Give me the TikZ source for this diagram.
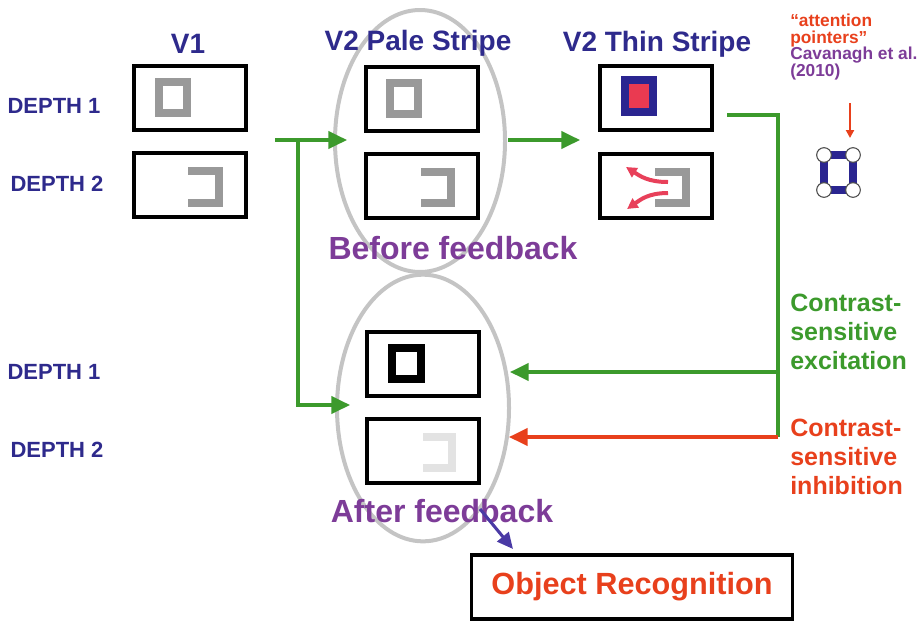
\documentclass[tikz,border=0pt]{standalone}
\usepackage{fontspec}
\setmainfont{Liberation Sans}
\usetikzlibrary{arrows.meta,shapes.geometric}
\definecolor{navy}{HTML}{2E2A8C}
\definecolor{purp}{HTML}{7D3C98}
\definecolor{grn}{HTML}{3C9A2C}
\definecolor{rd}{HTML}{E8401C}
\definecolor{pink}{HTML}{E8405A}
\definecolor{elg}{HTML}{C4C4C4}
\definecolor{shg}{HTML}{999999}
\definecolor{ptblue}{HTML}{2A2590}
\definecolor{arrblue}{HTML}{4A3AA5}
\begin{document}
\begin{tikzpicture}[x=0.75pt,y=-0.75pt,
  box/.style={draw=black, line width=2.6pt, minimum width=84pt, minimum height=48pt, inner sep=0pt},
  ell/.style={ellipse, draw=elg, line width=3pt, inner sep=0pt},
  lbl/.style={font=\fontsize{21}{25}\selectfont\bfseries, text=navy},
  dep/.style={font=\fontsize{16.5}{19}\selectfont\bfseries, text=navy},
  fb/.style={font=\fontsize{24}{28}\selectfont\bfseries, text=purp},
  side/.style={font=\fontsize{18.75}{22}\selectfont\bfseries, align=left, anchor=west, inner sep=0pt},
  shp/.style={draw=shg, line width=6pt},
  garrow/.style={draw=grn, line width=2.3pt, -{Triangle[length=14pt,width=13pt]}},
  rarrow/.style={draw=rd, line width=2.3pt, -{Triangle[length=14pt,width=13pt]}},
  parrow/.style={draw=pink, line width=3pt, -{Triangle[length=8pt,width=8pt]}}
]
\useasboundingbox (0,0) rectangle (919,622);

% ellipses
\node[ell, minimum width=127.5pt, minimum height=196.5pt] (before) at (420,141) {};
\node[ell, minimum width=129pt, minimum height=200pt] (after) at (423,408) {};

% column titles
\node[lbl] (tv1) at (188,44) {V1};
\node[lbl] (tpale) at (418,43) {V2 Pale Stripe};
\node[lbl] (tthin) at (657,44) {V2 Thin Stripe};

% depth labels
\node[dep] (d1a) at (54,106) {DEPTH 1};
\node[dep] (d2a) at (57,184) {DEPTH 2};
\node[dep] (d1b) at (54,372) {DEPTH 1};
\node[dep] (d2b) at (57,450) {DEPTH 2};

% boxes
\node[box] (v1a) at (190,98) {};
\node[box] (v1b) at (190,185) {};
\node[box] (pa) at (422,99) {};
\node[box] (pb) at (422,186) {};
\node[box] (ta) at (656,98) {};
\node[box] (tb) at (656,186) {};
\node[box] (aa) at (423,364) {};
\node[box] (ab) at (423,451) {};

% inner shapes
\draw[shp] (159,82) rectangle (187,113);
\draw[shp] (188,171) -- (219,171) -- (219,203) -- (188,203);
\draw[shp] (390,83) rectangle (418,114);
\draw[shp] (421,172) -- (451,172) -- (451,203) -- (421,203);
\draw[draw=ptblue, fill=pink!90!red, line width=6pt] (625,80) rectangle (653,112);
\draw[shp] (655,172) -- (686,172) -- (686,203) -- (655,203);
\draw[draw=black, line width=6pt] (392,348) rectangle (421,379);
\draw[draw=black!11, line width=6pt] (423,437) -- (452,437) -- (452,468) -- (423,468);
\draw[parrow] (668,182) .. controls (648,182) and (640,176) .. (626,167);
\draw[parrow] (668,193) .. controls (648,193) and (640,200) .. (627,209);

% feedback labels
\node[fb] (bf) at (453,248) {Before feedback};
\node[fb] (af) at (442,511) {After feedback};

% green connectors
\coordinate (v1out) at (275,140);
\coordinate (j1) at (298,140);
\coordinate (ptip) at (347,140);
\coordinate (atip) at (350,405);
\draw[garrow] (v1out) -- (ptip);
\draw[garrow] (j1) |- (atip);
\coordinate (pout) at (508,140);
\coordinate (ttip) at (580,140);
\draw[garrow] (pout) -- (ttip);
\coordinate (tout) at (727,115);
\coordinate (vc) at (778,115);
\coordinate (vexc) at (778,372);
\coordinate (vinh) at (778,437);
\coordinate (exctip) at (510,372);
\coordinate (inhtip) at (509,437);
\draw[draw=grn, line width=2.3pt] (tout) -- (vc) -- (vinh);
\draw[garrow] (vexc) -- (exctip);
\draw[rarrow] (vinh) -- (inhtip);

% side labels
\node[side, text=grn] (exc) at (790,332) {Contrast-\\sensitive\\excitation};
\node[side, text=rd] (inh) at (790,457) {Contrast-\\sensitive\\inhibition};

% attention pointers
\node[font=\fontsize{13}{12.5}\selectfont\bfseries, align=left, anchor=west, inner sep=0pt] (att) at (790,47)
  {\textcolor{rd}{\char"201C attention}\\\textcolor{rd}{pointers\char"201D}\\\textcolor{purp}{Cavanagh et al.}\\\textcolor{purp}{(2010)}};
\coordinate (rs) at (850,103);
\coordinate (re) at (850,138);
\draw[draw=rd, line width=1.6pt, -{Triangle[length=6pt,width=6pt]}] (rs) -- (re);
\draw[draw=ptblue, line width=6pt] (824,155) rectangle (853,190);
\foreach \p in {(824,155),(853,155),(824,190),(853,190)}
  \draw[fill=white, draw=black!70, line width=0.8pt] \p circle (5.5pt);

% object recognition
\node[draw=black, line width=2.6pt, minimum width=241pt, minimum height=48pt, inner sep=0pt,
  font=\fontsize{23}{27}\selectfont\bfseries, text=rd] (obj) at (632,587) {Object Recognition};
\coordinate (bs) at (480,509);
\coordinate (be) at (513,549);
\draw[draw=arrblue, line width=2.3pt, -{Triangle[length=12pt,width=11pt]}] (bs) -- (be);
\end{tikzpicture}
\end{document}
